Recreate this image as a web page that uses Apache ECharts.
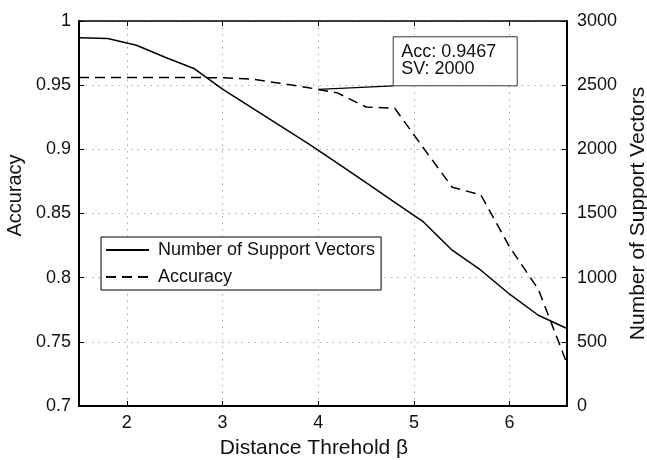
<!DOCTYPE html>
<html>
<head>
<meta charset="utf-8">
<script src="https://cdn.jsdelivr.net/npm/echarts@6/dist/echarts.min.js"></script>
<style>
    html, body { margin: 0; padding: 0; background: #fff; }
    #chart { width: 647px; height: 460px; }
</style>
</head>
<body>
<div id="chart"></div>
<script>
    // distance threshold beta
    const betaValues = [1.5, 1.8, 2.1, 2.4, 2.7, 3.0, 3.3, 3.6, 3.9, 4.2, 4.5, 4.8, 5.1, 5.4, 5.7, 6.0, 6.3, 6.6];
    const supportVectors = [2870, 2863, 2811, 2718, 2630, 2469, 2327, 2185, 2042, 1893, 1740, 1587, 1434, 1214, 1058, 871, 707, 604];
    const accuracy = [0.956, 0.956, 0.956, 0.956, 0.956, 0.9557, 0.9548, 0.9515, 0.948, 0.944, 0.933, 0.932, 0.901, 0.8705, 0.8645, 0.824, 0.791, 0.733];

    // data tip
    const tipBeta = 4;
    const tipAcc = 0.9467;
    const tipSV = 2000;

    const font = 'Liberation Sans';

    let myChart = echarts.init(document.getElementById('chart'));
    myChart.setOption({
        animation: false,
        grid: {
            left: 79,
            right: 80,
            top: 21,
            bottom: 54,
            outerBoundsMode: 'none'
        },
        legend: {
            orient: 'vertical',
            left: 101,
            top: 237,
            padding: [3, 6, 3, 4],
            itemGap: 7,
            itemWidth: 43,
            itemHeight: 14,
            borderColor: '#000',
            borderWidth: 1,
            backgroundColor: '#fff',
            itemStyle: { opacity: 0 },
            textStyle: {
                fontFamily: font,
                fontSize: 18,
                color: '#111',
                lineHeight: 20,
                padding: [0, 0, 0, 4]
            },
            data: ['Number of Support Vectors', 'Accuracy']
        },
        xAxis: [
            {
                type: 'value',
                min: 1.5,
                max: 6.6,
                splitNumber: 5,
                name: 'Distance Threhold β',
                nameLocation: 'middle',
                nameGap: 32,
                nameTextStyle: { fontFamily: font, fontSize: 21, color: '#111', padding: [0, 18, 0, 0] },
                axisLine: { onZero: false, lineStyle: { color: '#000', width: 2 } },
                axisTick: { inside: true, length: 5, lineStyle: { color: '#000' } },
                axisLabel: { showMinLabel: false, showMaxLabel: false, margin: 8, fontFamily: font, fontSize: 18, color: '#111' },
                splitLine: { show: true, lineStyle: { color: '#aaa', type: [1.5, 5] } }
            },
            {
                type: 'value',
                position: 'top',
                min: 1.5,
                max: 6.6,
                splitNumber: 5,
                axisLine: { onZero: false, lineStyle: { color: '#000', width: 1.5 } },
                axisTick: { inside: true, length: 5, lineStyle: { color: '#000' } },
                axisLabel: { show: false },
                splitLine: { show: false }
            }
        ],
        yAxis: [
            {
                type: 'value',
                position: 'left',
                min: 0.7,
                max: 1,
                interval: 0.05,
                name: 'Accuracy',
                nameLocation: 'middle',
                nameGap: 47,
                nameTextStyle: { fontFamily: font, fontSize: 20, color: '#111', padding: [0, 0, 0, 36] },
                axisLine: { show: true, lineStyle: { color: '#000', width: 2 } },
                axisTick: { show: true, inside: true, length: 5, lineStyle: { color: '#000' } },
                axisLabel: { margin: 8, fontFamily: font, fontSize: 18, color: '#111' },
                splitLine: { show: true, lineStyle: { color: '#aaa', type: [1.5, 5] } }
            },
            {
                type: 'value',
                position: 'right',
                min: 0,
                max: 3000,
                interval: 500,
                name: 'Number of Support Vectors',
                nameLocation: 'middle',
                nameGap: 59,
                nameTextStyle: { fontFamily: font, fontSize: 21, color: '#111' },
                axisLine: { show: true, lineStyle: { color: '#000', width: 2 } },
                axisTick: { show: true, inside: true, length: 5, lineStyle: { color: '#000' } },
                axisLabel: { margin: 10, fontFamily: font, fontSize: 18, color: '#111', formatter: v => String(v) },
                splitLine: { show: false }
            }
        ],
        series: [
            {
                name: 'Number of Support Vectors',
                type: 'line',
                yAxisIndex: 1,
                symbol: 'none',
                lineStyle: { color: '#000', width: 1.5 },
                itemStyle: { color: '#000' },
                data: betaValues.map((b, i) => [b, supportVectors[i]])
            },
            {
                name: 'Accuracy',
                type: 'line',
                yAxisIndex: 0,
                symbol: 'none',
                lineStyle: { color: '#000', width: 1.5, type: [10, 6] },
                itemStyle: { color: '#000' },
                data: betaValues.map((b, i) => [b, accuracy[i]])
            }
        ]
    });

    // data tip box, placed from the point on the accuracy curve
    let p = myChart.convertToPixel({ xAxisIndex: 0, yAxisIndex: 0 }, [tipBeta, tipAcc]);
    let boxW = 124, boxH = 49;
    let boxX = p[0] + 75;
    let boxY = p[1] - 3.6 - boxH;
    myChart.setOption({
        graphic: [
            {
                type: 'line',
                shape: { x1: p[0], y1: p[1], x2: boxX, y2: boxY + boxH },
                style: { stroke: '#000', lineWidth: 1.3 }
            },
            {
                type: 'rect',
                shape: { x: boxX, y: boxY, width: boxW, height: boxH },
                style: { fill: '#fff', stroke: '#333', lineWidth: 1 }
            },
            {
                type: 'text',
                x: boxX + 8,
                y: boxY + 6,
                style: {
                    text: 'Acc: ' + tipAcc + '\nSV: ' + tipSV,
                    font: '18px "Liberation Sans"',
                    fill: '#111',
                    lineHeight: 17.5
                }
            }
        ]
    });
</script>
</body>
</html>
